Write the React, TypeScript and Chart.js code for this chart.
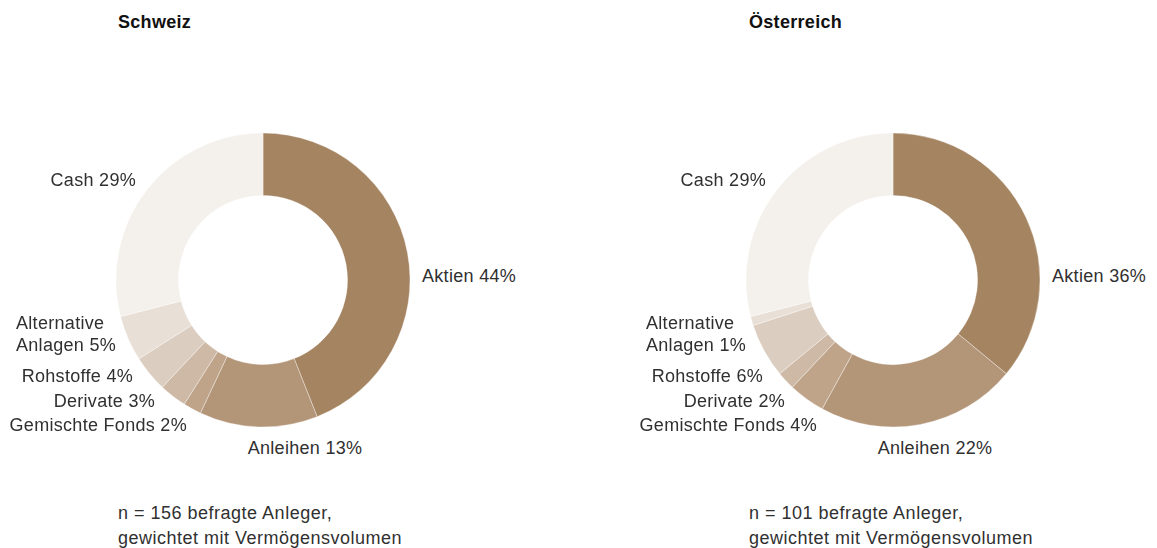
import React, { useEffect, useRef } from "react";
import { Chart, registerables } from "chart.js";

Chart.register(...registerables);

// ---- data ----
const categories = [
  "Aktien",
  "Anleihen",
  "Gemischte Fonds",
  "Derivate",
  "Rohstoffe",
  "Alternative Anlagen",
  "Cash",
];
const schweizValues = [44, 13, 2, 3, 4, 5, 29];
const oesterreichValues = [36, 22, 4, 2, 6, 1, 29];
const titles = ["Schweiz", "Österreich"];
const footnotesSchweiz = ["n = 156 befragte Anleger,", "gewichtet mit Vermögensvolumen"];
const footnotesOesterreich = ["n = 101 befragte Anleger,", "gewichtet mit Vermögensvolumen"];

// ---- styles ----
const colors = ["#A58462", "#B39578", "#BFA48A", "#CDB9A6", "#DBCDC0", "#E8DFD6", "#F4F1EC"];
const FONT = '"Liberation Sans", Arial, Helvetica, sans-serif';
const TEXT_COLOR = "#303030";

// label placement relative to the doughnut centre (per category)
type Anchor = "left" | "right" | "center";
const labelLayout: { dx: number; dy: number; anchor: Anchor; wrap?: boolean }[] = [
  { dx: 159, dy: -4, anchor: "left" }, // Aktien
  { dx: 42, dy: 168, anchor: "center" }, // Anleihen
  { dx: -76, dy: 145, anchor: "right" }, // Gemischte Fonds
  { dx: -108, dy: 121, anchor: "right" }, // Derivate
  { dx: -130, dy: 96, anchor: "right" }, // Rohstoffe
  { dx: -247, dy: 54, anchor: "left", wrap: true }, // Alternative Anlagen
  { dx: -127, dy: -100, anchor: "right" }, // Cash
];

const SIZE = 300;

function Donut(props: {
  cx: number;
  cy: number;
  values: number[];
  title: string;
  titleX: number;
  notes: string[];
}) {
  const ref = useRef<HTMLCanvasElement | null>(null);
  useEffect(() => {
    if (!ref.current) return;
    const chart = new Chart(ref.current, {
      type: "doughnut",
      data: {
        labels: categories,
        datasets: [
          {
            data: props.values,
            backgroundColor: colors,
            borderColor: "rgba(255,255,255,0.35)",
            borderWidth: 1,
          },
        ],
      },
      options: {
        responsive: false,
        animation: false,
        radius: 147,
        cutout: 86,
        layout: { padding: 0 },
        plugins: {
          legend: { display: false },
          tooltip: { enabled: false },
        },
      } as any,
    });
    return () => chart.destroy();
  }, []);

  const { cx, cy } = props;
  return (
    <>
      <div
        style={{
          position: "absolute",
          left: props.titleX,
          top: 22,
          transform: "translateY(-50%)",
          fontFamily: FONT,
          fontWeight: 700,
          fontSize: 18,
          letterSpacing: "0.3px",
          color: "#111",
          whiteSpace: "nowrap",
        }}
      >
        {props.title}
      </div>
      <canvas
        ref={ref}
        width={SIZE}
        height={SIZE}
        style={{
          position: "absolute",
          left: cx - SIZE / 2,
          top: cy - SIZE / 2,
          width: SIZE,
          height: SIZE,
        }}
      />
      {categories.map((c, i) => {
        const l = labelLayout[i];
        const text = l.wrap ? c.replace(" ", "\n") : c;
        const tx = l.anchor === "left" ? "0" : l.anchor === "right" ? "-100%" : "-50%";
        return (
          <div
            key={c}
            style={{
              position: "absolute",
              left: cx + l.dx,
              top: cy + l.dy,
              transform: `translate(${tx}, -50%)`,
              fontFamily: FONT,
              fontSize: 18,
              lineHeight: "22px",
              letterSpacing: "0.3px",
              color: TEXT_COLOR,
              whiteSpace: "pre",
              textAlign: l.anchor === "right" ? "right" : "left",
            }}
          >
            {text + " " + props.values[i] + "%"}
          </div>
        );
      })}
      <div
        style={{
          position: "absolute",
          left: props.titleX,
          top: 501,
          fontFamily: FONT,
          fontSize: 18,
          lineHeight: "25px",
          letterSpacing: "0.5px",
          color: TEXT_COLOR,
          whiteSpace: "pre",
        }}
      >
        {props.notes.join("\n")}
      </div>
    </>
  );
}

export default function App() {
  return (
    <div
      style={{
        position: "absolute",
        left: 0,
        top: 0,
        width: 1157,
        height: 548,
        background: "#ffffff",
        overflow: "hidden",
      }}
    >
      <Donut cx={263} cy={280} values={schweizValues} title={titles[0]} titleX={118} notes={footnotesSchweiz} />
      <Donut cx={893} cy={280} values={oesterreichValues} title={titles[1]} titleX={749} notes={footnotesOesterreich} />
    </div>
  );
}
